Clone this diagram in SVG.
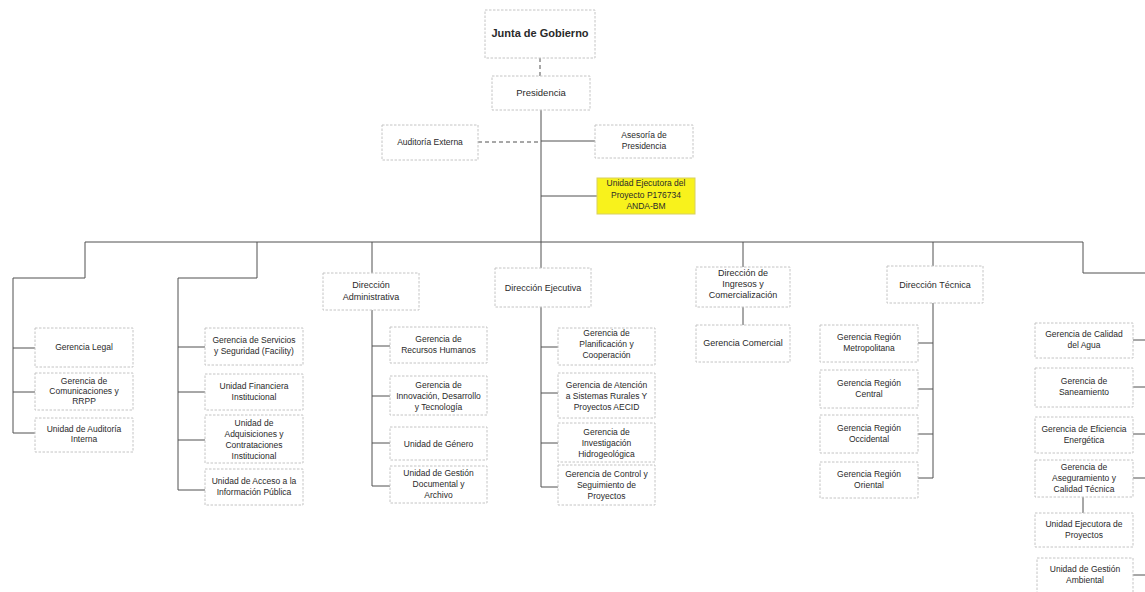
<svg xmlns="http://www.w3.org/2000/svg" width="1145" height="592" viewBox="0 0 1145 592">
<style>
.box{fill:#fff;stroke:#c4c4c4;stroke-width:1;stroke-dasharray:2.5 1.5}
.hl{fill:#f8f21c;stroke:#d8d060;stroke-width:1}
.t{font-family:"Liberation Sans",Arial,sans-serif;font-size:8.5px;fill:#2a2a2a;text-anchor:middle}
.d{font-size:9px}
.c{stroke:#505050;stroke-width:1;fill:none}
.dash{stroke-dasharray:4 3}
</style>
<rect width="1145" height="592" fill="#fff"/>
<g id="connectors">
<path class="c dash" d="M540 58V76"/>
<path class="c" d="M541 110V268"/>
<path class="c dash" d="M478 142H541"/>
<path class="c" d="M541 141H595M541 196H597"/>
<path class="c" d="M85 242H1083V273H1145"/>
<path class="c" d="M85 242V278H13V433M13 348H35M13 392H35M13 433H35"/>
<path class="c" d="M257 242V278H178V490M178 347H205M178 392H205M178 440H205M178 490H205"/>
<path class="c" d="M372 242V273M372 310V486M372 346H390M372 396H390M372 443H390M372 486H390"/>
<path class="c" d="M541 307V487M541 347H558M541 393H558M541 443H558M541 487H558"/>
<path class="c" d="M743 242V267M743 307V325"/>
<path class="c" d="M933 242V266M933 303V478M933 343H918M933 389H918M933 434H918M933 478H918"/>
<path class="c" d="M1133 340H1145M1133 387H1145M1133 434H1145M1133 478H1145M1133 575H1145M1083 497V513"/>
</g>
<g id="junta"><rect class="box" x="485" y="10" width="110" height="48"/><text class="t" x="540" y="37" style="font-size:11px;font-weight:bold">Junta de Gobierno</text></g>
<g id="presidencia"><rect class="box" x="492" y="76" width="98" height="34"/><text class="t" x="541" y="96" style="font-size:9.5px">Presidencia</text></g>
<g id="auditoria-externa"><rect class="box" x="382" y="125" width="96" height="35"/><text class="t" x="430" y="145">Auditoría Externa</text></g>
<g id="asesoria"><rect class="box" x="595" y="125" width="98" height="33"/><text class="t" x="644" y="138">Asesoría de</text><text class="t" x="644" y="149">Presidencia</text></g>
<g id="unidad-ejecutora-bm"><rect class="hl" x="597" y="178" width="98" height="36"/><text class="t" x="646" y="186">Unidad Ejecutora del</text><text class="t" x="646" y="198">Proyecto P176734</text><text class="t" x="646" y="209">ANDA-BM</text></g>

<g id="gerencia-legal"><rect class="box" x="35" y="328" width="98" height="39"/><text class="t" x="84" y="350">Gerencia Legal</text></g>
<g id="comunicaciones"><rect class="box" x="35" y="373" width="98" height="37"/><text class="t" x="84" y="384">Gerencia de</text><text class="t" x="84" y="394">Comunicaciones y</text><text class="t" x="84" y="404">RRPP</text></g>
<g id="auditoria-interna"><rect class="box" x="35" y="418" width="98" height="34"/><text class="t" x="84" y="432">Unidad de Auditoría</text><text class="t" x="84" y="442">Interna</text></g>

<g id="servicios"><rect class="box" x="205" y="328" width="98" height="37"/><text class="t" x="254" y="343">Gerencia de Servicios</text><text class="t" x="254" y="354">y Seguridad (Facility)</text></g>
<g id="financiera"><rect class="box" x="205" y="374" width="98" height="36"/><text class="t" x="254" y="389">Unidad Financiera</text><text class="t" x="254" y="400">Institucional</text></g>
<g id="adquisiciones"><rect class="box" x="205" y="415" width="98" height="48"/><text class="t" x="254" y="425.5">Unidad de</text><text class="t" x="254" y="436.5">Adquisiciones y</text><text class="t" x="254" y="447.5">Contrataciones</text><text class="t" x="254" y="458.5">Institucional</text></g>
<g id="acceso"><rect class="box" x="205" y="469" width="98" height="36"/><text class="t" x="254" y="484">Unidad de Acceso a la</text><text class="t" x="254" y="495">Información Pública</text></g>

<g id="dir-administrativa"><rect class="box" x="323" y="273" width="96" height="37"/><text class="t d" x="371" y="288">Dirección</text><text class="t d" x="371" y="300">Administrativa</text></g>
<g id="rrhh"><rect class="box" x="390" y="327" width="97" height="36"/><text class="t" x="438.5" y="342">Gerencia de</text><text class="t" x="438.5" y="353">Recursos Humanos</text></g>
<g id="innovacion"><rect class="box" x="390" y="376" width="97" height="39"/><text class="t" x="438.5" y="387.5">Gerencia de</text><text class="t" x="438.5" y="398.5">Innovación, Desarrollo</text><text class="t" x="438.5" y="409.5">y Tecnología</text></g>
<g id="genero"><rect class="box" x="390" y="427" width="97" height="33"/><text class="t" x="438.5" y="446.5">Unidad de Género</text></g>
<g id="documental"><rect class="box" x="390" y="466" width="97" height="37"/><text class="t" x="438.5" y="476">Unidad de Gestión</text><text class="t" x="438.5" y="487">Documental y</text><text class="t" x="438.5" y="498">Archivo</text></g>

<g id="dir-ejecutiva"><rect class="box" x="495" y="268" width="96" height="39"/><text class="t d" x="543" y="291">Dirección Ejecutiva</text></g>
<g id="planificacion"><rect class="box" x="558" y="328" width="97" height="37"/><text class="t" x="606.5" y="335.5">Gerencia de</text><text class="t" x="606.5" y="346.5">Planificación y</text><text class="t" x="606.5" y="357.5">Cooperación</text></g>
<g id="atencion"><rect class="box" x="558" y="373" width="97" height="45"/><text class="t" x="606.5" y="387.5">Gerencia de Atención</text><text class="t" x="606.5" y="398.5">a Sistemas Rurales Y</text><text class="t" x="606.5" y="409.5">Proyectos AECID</text></g>
<g id="investigacion"><rect class="box" x="558" y="423" width="97" height="39"/><text class="t" x="606.5" y="434.5">Gerencia de</text><text class="t" x="606.5" y="445.5">Investigación</text><text class="t" x="606.5" y="456.5">Hidrogeológica</text></g>
<g id="control"><rect class="box" x="558" y="465" width="97" height="40"/><text class="t" x="606.5" y="477">Gerencia de Control y</text><text class="t" x="606.5" y="488">Seguimiento de</text><text class="t" x="606.5" y="499">Proyectos</text></g>

<g id="dir-ingresos"><rect class="box" x="696" y="267" width="94" height="40"/><text class="t d" x="743" y="276">Dirección de</text><text class="t d" x="743" y="287">Ingresos y</text><text class="t d" x="743" y="298">Comercialización</text></g>
<g id="comercial"><rect class="box" x="696" y="325" width="94" height="37"/><text class="t d" x="743" y="346">Gerencia Comercial</text></g>

<g id="dir-tecnica"><rect class="box" x="887" y="266" width="96" height="37"/><text class="t d" x="935" y="288">Dirección Técnica</text></g>
<g id="metropolitana"><rect class="box" x="820" y="325" width="98" height="37"/><text class="t" x="869" y="340">Gerencia Región</text><text class="t" x="869" y="351">Metropolitana</text></g>
<g id="central"><rect class="box" x="820" y="370" width="98" height="38"/><text class="t" x="869" y="386">Gerencia Región</text><text class="t" x="869" y="397">Central</text></g>
<g id="occidental"><rect class="box" x="820" y="415" width="98" height="38"/><text class="t" x="869" y="431">Gerencia Región</text><text class="t" x="869" y="442">Occidental</text></g>
<g id="oriental"><rect class="box" x="820" y="462" width="98" height="36"/><text class="t" x="869" y="477">Gerencia Región</text><text class="t" x="869" y="488">Oriental</text></g>

<g id="calidad-agua"><rect class="box" x="1035" y="323" width="98" height="35"/><text class="t" x="1084" y="337">Gerencia de Calidad</text><text class="t" x="1084" y="348">del Agua</text></g>
<g id="saneamiento"><rect class="box" x="1035" y="368" width="98" height="39"/><text class="t" x="1084" y="384">Gerencia de</text><text class="t" x="1084" y="395">Saneamiento</text></g>
<g id="eficiencia"><rect class="box" x="1035" y="417" width="98" height="36"/><text class="t" x="1084" y="432">Gerencia de Eficiencia</text><text class="t" x="1084" y="443">Energética</text></g>
<g id="aseguramiento"><rect class="box" x="1035" y="460" width="98" height="37"/><text class="t" x="1084" y="470">Gerencia de</text><text class="t" x="1084" y="481">Aseguramiento y</text><text class="t" x="1084" y="492">Calidad Técnica</text></g>
<g id="uep"><rect class="box" x="1035" y="513" width="98" height="34"/><text class="t" x="1084" y="527">Unidad Ejecutora de</text><text class="t" x="1084" y="538">Proyectos</text></g>
<g id="ambiental"><rect class="box" x="1037" y="558" width="96" height="40"/><text class="t" x="1085" y="572">Unidad de Gestión</text><text class="t" x="1085" y="583">Ambiental</text></g>
</svg>
